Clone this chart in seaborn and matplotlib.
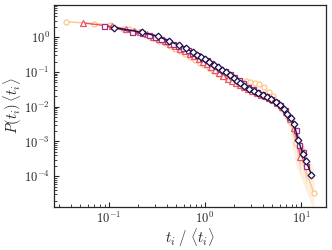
import matplotlib
matplotlib.use("Agg")
import matplotlib.pyplot as plt
import seaborn as sns

# data (t / <t>, P(t) <t>)
circle_t = [0.036, 0.070, 0.103, 0.139, 0.160, 0.180, 0.205, 0.232, 0.262, 0.296, 0.335, 0.38, 0.43,
            0.49, 0.55, 0.62, 0.70, 0.79, 0.88, 0.98, 1.09, 1.22, 1.36, 1.52, 1.70, 1.90, 2.12, 2.37,
            2.65, 2.95, 3.30, 3.68, 4.10, 4.60, 5.10, 5.70, 6.40, 7.10, 7.80, 8.90, 13.7]
circle_p = [2.80, 2.48, 2.28, 1.76, 1.70, 1.52, 1.38, 1.22, 1.08, 0.93, 0.80, 0.68, 0.56,
            0.47, 0.39, 0.32, 0.265, 0.22, 0.185, 0.156, 0.128, 0.104, 0.087, 0.076, 0.068, 0.058, 0.052, 0.050,
            0.054, 0.052, 0.049, 0.045, 0.036, 0.027, 0.020, 0.013, 0.0085, 0.0055, 0.0033, 0.0009, 3.2e-5]

tri_t = [0.053, 0.108, 0.150, 0.180, 0.212, 0.248, 0.29, 0.33, 0.38, 0.43, 0.49, 0.55, 0.62, 0.69,
         0.77, 0.86, 0.95, 1.05, 1.16, 1.28, 1.41, 1.56, 1.72, 1.90, 2.10, 2.32, 2.56, 2.83, 3.12,
         3.45, 3.80, 4.20, 4.65, 5.15, 5.70, 6.30, 7.0, 7.7, 8.5, 9.9]
tri_p = [2.60, 2.05, 1.70, 1.55, 1.38, 1.22, 1.05, 0.92, 0.78, 0.66, 0.56, 0.47, 0.40, 0.33,
         0.28, 0.23, 0.195, 0.165, 0.135, 0.112, 0.094, 0.078, 0.064, 0.054, 0.048, 0.043, 0.037, 0.032, 0.029,
         0.025, 0.022, 0.020, 0.018, 0.016, 0.013, 0.010, 0.0070, 0.0045, 0.0025, 3.6e-4]

sq_t = [0.089, 0.174, 0.22, 0.26, 0.30, 0.35, 0.40, 0.46, 0.52, 0.59, 0.66, 0.74, 0.83, 0.93,
        1.04, 1.16, 1.30, 1.45, 1.62, 1.81, 2.02, 2.26, 2.52, 2.81, 3.14, 3.50, 3.91, 4.37, 4.88,
        5.45, 6.10, 6.80, 7.60, 8.90, 9.60, 10.6, 11.4]
sq_p = [2.18, 1.41, 1.30, 1.15, 1.02, 0.90, 0.78, 0.66, 0.58, 0.48, 0.42, 0.36, 0.30, 0.25,
        0.215, 0.18, 0.15, 0.125, 0.105, 0.088, 0.070, 0.058, 0.047, 0.038, 0.032, 0.027, 0.023, 0.020, 0.017,
        0.014, 0.011, 0.0080, 0.0050, 0.0021, 7.7e-4, 5.0e-4, 2.0e-4]

dia_t = [0.113, 0.221, 0.324, 0.422, 0.536, 0.634, 0.745, 0.826, 0.908, 1.00, 1.11, 1.23, 1.36,
         1.49, 1.65, 1.84, 2.02, 2.18, 2.33, 2.57, 2.89, 3.22, 3.59, 3.99, 4.42, 4.87, 5.49, 6.09,
         6.60, 7.15, 7.87, 8.51, 9.38, 10.5, 11.3, 12.9]
dia_p = [1.91, 1.38, 1.07, 0.771, 0.595, 0.490, 0.371, 0.311, 0.268, 0.240, 0.194, 0.163, 0.140,
         0.117, 0.098, 0.080, 0.066, 0.056, 0.0474, 0.0398, 0.0328, 0.0288, 0.0243, 0.0214, 0.0191, 0.0165, 0.0138, 0.0112,
         0.0085, 0.0061, 0.0049, 0.0032, 0.00108, 4.5e-4, 2.8e-4, 1.1e-4]

# spread at the tails
band_circle_t = [7.80, 8.90, 13.7]
band_circle_lo = [1.5e-3, 2.0e-4, 1.0e-5]
band_circle_hi = [5.0e-3, 2.5e-3, 1.5e-4]
band_tri_t = [7.7, 8.5, 9.9]
band_tri_lo = [3.0e-3, 1.2e-3, 1.2e-4]
band_tri_hi = [6.0e-3, 4.0e-3, 8.0e-4]
band_sq_t = [8.90, 9.60, 10.6, 11.4]
band_sq_lo = [1.2e-3, 4.0e-4, 2.0e-4, 6.0e-5]
band_sq_hi = [3.0e-3, 1.3e-3, 8.0e-4, 4.0e-4]

sns.set_style("ticks")
plt.rcParams["mathtext.fontset"] = "cm"
plt.rcParams["font.family"] = ["serif"]
plt.rcParams["font.serif"] = ["cmr10", "DejaVu Serif"]
plt.rcParams["axes.formatter.use_mathtext"] = True

magma = sns.color_palette("magma", as_cmap=True)
c_circle = magma(0.88)
c_tri = magma(0.64)
c_sq = magma(0.45)
c_dia = magma(0.13)

fig = plt.figure(figsize=(3.32, 2.5), dpi=100)
ax = fig.add_axes([0.163, 0.172, 0.82, 0.808])

ax.fill_between(band_circle_t, band_circle_lo, band_circle_hi, color=c_circle, alpha=0.25, lw=0)
ax.fill_between(band_tri_t, band_tri_lo, band_tri_hi, color=c_tri, alpha=0.2, lw=0)
ax.fill_between(band_sq_t, band_sq_lo, band_sq_hi, color=c_sq, alpha=0.2, lw=0)

series = [
    (circle_t, circle_p, c_circle, "o", 3.6),
    (tri_t, tri_p, c_tri, "^", 3.8),
    (sq_t, sq_p, c_sq, "s", 3.6),
    (dia_t, dia_p, c_dia, "D", 3.4),
]
for t, p, c, m, ms in series:
    sns.lineplot(x=t, y=p, ax=ax, color=c, marker=m, markersize=ms, lw=1.0,
                 mfc="white", mec=c, mew=0.9, errorbar=None, sort=False)

ax.set_xscale("log")
ax.set_yscale("log")
ax.set_ylim(1.3e-5, 8.5)
ax.set_xlabel(r"$t_i\ /\ \langle t_i\rangle$", fontsize=10.5, labelpad=0)
ax.set_ylabel(r"$P(t_i)\,\langle t_i\rangle$", fontsize=10.5, labelpad=0)
ax.tick_params(which="both", direction="in", labelsize=9)
ax.tick_params(which="major", length=3.5, width=0.8, pad=3)
ax.tick_params(which="minor", length=2, width=0.6)
for s in ax.spines.values():
    s.set_linewidth(0.9)

fig.savefig("out.png", dpi=100)
